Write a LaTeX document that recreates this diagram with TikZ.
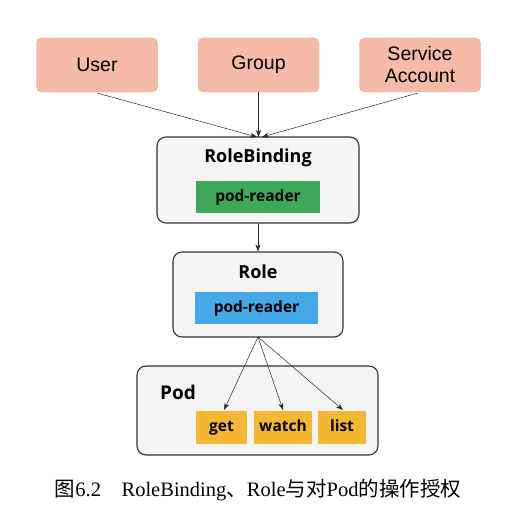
\documentclass[tikz,border=0pt]{standalone}
\usepackage{fontspec}
\setmainfont{Liberation Serif}
\setsansfont{Liberation Sans}
\newfontfamily\boldsans{Open Sans}
\newfontfamily\cjk{Noto Sans CJK SC}
\usetikzlibrary{arrows.meta}
\definecolor{salmon}{HTML}{F5BBA8}
\definecolor{salmonline}{HTML}{E9A390}
\definecolor{boxgray}{HTML}{F4F4F4}
\definecolor{rbgreen}{HTML}{3DA858}
\definecolor{roleblue}{HTML}{45A9E9}
\definecolor{podyellow}{HTML}{F4B733}
\tikzset{
  subject/.style={draw=salmonline, fill=salmon, rounded corners=5pt, minimum width=121pt, minimum height=54pt, font=\sffamily\fontsize{19.5}{22}\selectfont, align=center, inner sep=0pt},
  panel/.style={draw=black!80, fill=boxgray, rounded corners=9pt, line width=1.1pt, inner sep=0pt},
  title/.style={font=\boldsans\bfseries\fontsize{18}{20}\selectfont, inner sep=0pt},
  tag/.style={minimum width=124pt, minimum height=32pt, inner sep=0pt, font=\boldsans\bfseries\fontsize{15.5}{17}\selectfont},
  verb/.style={fill=podyellow, minimum height=33pt, inner sep=0pt, text height=11pt, text depth=3pt, font=\boldsans\bfseries\fontsize{15.5}{17}\selectfont},
  arr/.style={-{Stealth[length=7pt,width=5pt]}, line width=0.5pt, black!85}
}
\begin{document}
\begin{tikzpicture}[x=1pt,y=-1pt]
\useasboundingbox (0,0) rectangle (522,524);
% subjects
\node[subject] (user) at (97,65) {User};
\node[subject] (group) at (258.5,65) {Group};
\node[subject] (sa) at (420,65) {Service\\Account};
% RoleBinding
\node[panel, minimum width=202pt, minimum height=86pt] (rb) at (258,180) {};
\node[title] (rbt) at (258,158) {RoleBinding};
\node[tag, fill=rbgreen] (rbr) at (258,197) {pod-reader};
% Role
\node[panel, minimum width=170pt, minimum height=85pt] (role) at (258,294.5) {};
\node[title] (rolet) at (258,272) {Role};
\node[tag, fill=roleblue, minimum width=123pt] (roler) at (256.5,308) {pod-reader};
% Pod
\node[panel, minimum width=241pt, minimum height=89pt] (pod) at (257.5,410.5) {};
\node[title, font=\boldsans\bfseries\fontsize{19}{21}\selectfont] (podt) at (178,392) {Pod};
\node[verb, minimum width=51pt] (get) at (221.5,427) {get};
\node[verb, minimum width=58pt] (watch) at (283,427) {watch};
\node[verb, minimum width=48pt] (list) at (342,427) {list};
% coordinates for arrow ends
\coordinate (userout) at (97,93);
\coordinate (saout) at (418,93);
\coordinate (rbin1) at (257,137);
\coordinate (rbin2) at (258.5,137);
\coordinate (rbin3) at (262,137);
\coordinate (roleout) at (258,337);
\coordinate (getin) at (224,410);
\coordinate (watchin) at (283,410);
\coordinate (listin) at (343,410);
% connectors
\draw[arr] (userout) -- (rbin1);
\draw[arr] (group.south) -- (rbin2);
\draw[arr] (saout) -- (rbin3);
\draw[arr] (rb.south) -- (role.north);
\draw[arr] (roleout) -- (getin);
\draw[arr] (roleout) -- (watchin);
\draw[arr] (roleout) -- (listin);
% caption
\node[font=\fontsize{20.5}{24}\selectfont, inner sep=0pt] (cap) at (258,490) {{\cjk 图}6.2\hspace{1em}RoleBinding{\cjk 、}Role{\cjk 与对}Pod{\cjk 的操作授权}};
\end{tikzpicture}
\end{document}
